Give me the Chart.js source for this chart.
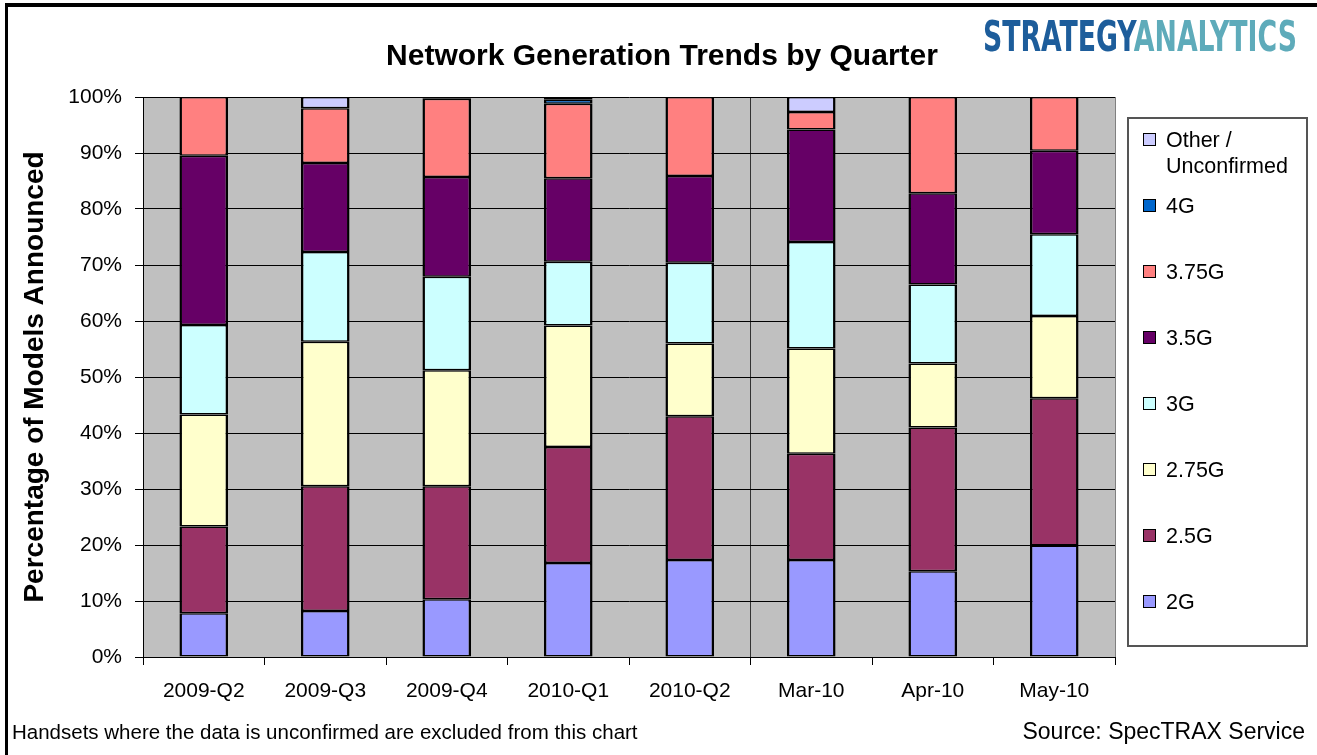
<!DOCTYPE html>
<html>
<head>
<meta charset="utf-8">
<title>Network Generation Trends by Quarter</title>
<script src="https://cdn.jsdelivr.net/npm/chart.js@4.4.1/dist/chart.umd.min.js"></script>
<style>
  html, body { margin: 0; padding: 0; background: #fff; }
  body { width: 1317px; height: 755px; position: relative; overflow: hidden; font-family: "Liberation Sans", Arial, sans-serif; color: #000; }
  #wrap { position: absolute; left: 0; top: 0; width: 1317px; height: 755px; }
  .frame { position: absolute; left: 5px; top: 3px; width: 1400px; height: 800px; border-left: 3px solid #000; border-top: 4px solid #000; pointer-events: none; }
  .title { position: absolute; left: 362px; width: 600px; top: 36px; text-align: center; font-weight: bold; font-size: 30px; line-height: 38px; white-space: nowrap; }
  .logo { position: absolute; left: 983px; top: 13px; font-family: "Liberation Sans Narrow", "DejaVu Sans Condensed", sans-serif; font-weight: bold; font-size: 43px; line-height: 46px; white-space: nowrap; transform-origin: 0 0; }
  .logo .a { color: #1d5d9b; }
  .logo .b { color: #5eabba; }
  .note { position: absolute; left: 12px; top: 719px; font-size: 20.5px; line-height: 26px; white-space: nowrap; }
  .source { position: absolute; right: 12px; top: 717px; font-size: 23px; line-height: 28px; white-space: nowrap; }
  .legend { position: absolute; left: 1127px; top: 117px; width: 181px; height: 530px; border: 2px solid #555; box-sizing: border-box; background: #fff; }
  .legend .item { position: absolute; left: 14px; font-size: 21.5px; line-height: 26px; white-space: nowrap; }
  .legend .sw { position: absolute; left: 0; top: 6px; width: 11px; height: 11px; border: 1.5px solid #000; }
  .legend .txt { position: absolute; left: 23px; top: 0; }
</style>
</head>
<body>
<div id="wrap"><canvas id="chart"></canvas></div>
<div class="frame"></div>
<div class="title">Network Generation Trends by Quarter</div>
<div class="logo" id="logo"><span class="a">STRATEGY</span><span class="b">ANALYTICS</span></div>
<div class="legend" id="legend"></div>
<div class="note">Handsets where the data is unconfirmed are excluded from this chart</div>
<div class="source">Source: SpecTRAX Service</div>

<script>
// Datos (porcentaje de modelos anunciados)
const categories = ['2009-Q2', '2009-Q3', '2009-Q4', '2010-Q1', '2010-Q2', 'Mar-10', 'Apr-10', 'May-10'];
const g2    = [7.8, 8.2, 10.3, 16.8, 17.3, 17.3, 15.3, 19.9];
const g25   = [15.5, 22.3, 20.2, 20.7, 25.7, 19.0, 25.7, 26.3];
const g275  = [20.0, 25.8, 20.7, 21.7, 13.0, 18.8, 11.4, 14.7];
const g3    = [16.0, 16.0, 16.7, 11.4, 14.4, 19.0, 14.1, 14.6];
const g35   = [30.2, 15.9, 17.8, 14.9, 15.5, 20.1, 16.3, 14.9];
const g375  = [10.5, 9.8, 14.0, 13.3, 14.1, 3.1, 17.2, 9.6];
const g4    = [0, 0, 0.3, 0.7, 0, 0, 0, 0];
const other = [0, 2.0, 0, 0.5, 0, 2.7, 0, 0];

const yTicks = [0, 10, 20, 30, 40, 50, 60, 70, 80, 90, 100];

const seriesNames  = ['2G', '2.5G', '2.75G', '3G', '3.5G', '3.75G', '4G', ['Other /', 'Unconfirmed']];
const seriesColors = ['#9999ff', '#993366', '#ffffcc', '#ccffff', '#660066', '#ff8080', '#0066cc', '#ccccff'];
const seriesData   = [g2, g25, g275, g3, g35, g375, g4, other];

// fondo gris del área de trazado + borde derecho
const plotBg = {
  id: 'plotBg',
  beforeDraw(chart) {
    const { ctx, chartArea: a } = chart;
    ctx.save();
    ctx.fillStyle = '#c0c0c0';
    ctx.fillRect(a.left, a.top, a.right - a.left, a.bottom - a.top);
    ctx.restore();
  },
  afterDraw(chart) {
    const { ctx, chartArea: a } = chart;
    ctx.save();
    ctx.strokeStyle = '#808080';
    ctx.lineWidth = 1;
    ctx.beginPath();
    ctx.moveTo(a.right + 0.5, a.top);
    ctx.lineTo(a.right + 0.5, a.bottom);
    ctx.stroke();
    ctx.restore();
  }
};

const chart = new Chart(document.getElementById('chart'), {
  type: 'bar',
  data: {
    labels: categories,
    datasets: seriesData.map((d, i) => ({
      label: Array.isArray(seriesNames[i]) ? seriesNames[i].join(' ') : seriesNames[i],
      data: d,
      backgroundColor: seriesColors[i],
      borderColor: '#000',
      // bordes finos arriba/abajo: entre segmentos quedan ~3px como en Excel
      borderWidth: { top: 1.5, bottom: 1.5, left: 2.5, right: 2.5 },
      borderSkipped: false,
      barPercentage: 0.4,
      categoryPercentage: 1.0
    }))
  },
  options: {
    responsive: true,
    maintainAspectRatio: false,
    animation: false,
    layout: { padding: { left: 0, right: 202, top: 97, bottom: 0 } },
    plugins: {
      legend: { display: false },
      title: { display: false },
      tooltip: { enabled: false }
    },
    scales: {
      x: {
        stacked: true,
        afterFit: s => { s.height = 98; },
        border: { display: true, color: '#000', width: 1 },
        grid: {
          offset: true,
          drawOnChartArea: true,
          color: c => (c.index === 5 ? '#333' : 'rgba(0,0,0,0)'),
          tickColor: '#000',
          tickLength: 8,
          lineWidth: 1
        },
        ticks: { color: '#000', padding: 14, font: { family: 'Liberation Sans, Arial', size: 21 } }
      },
      y: {
        stacked: true,
        min: 0,
        max: 100,
        afterFit: s => { s.width = 143; },
        afterBuildTicks: s => { s.ticks = yTicks.map(v => ({ value: v })); },
        border: { display: true, color: '#000', width: 1 },
        grid: { color: '#000', tickColor: '#000', tickLength: 8, lineWidth: 1 },
        ticks: {
          color: '#000',
          padding: 13,
          font: { family: 'Liberation Sans, Arial', size: 21 },
          callback: v => v + '%'
        },
        title: {
          display: true,
          text: 'Percentage of Models Announced',
          color: '#000',
          padding: { top: 18, bottom: 0 },
          font: { family: 'Liberation Sans, Arial', size: 28, weight: 'bold' }
        }
      }
    }
  },
  plugins: [plotBg]
});

// leyenda (orden inverso, como en Excel)
const legend = document.getElementById('legend');
const order = [7, 6, 5, 4, 3, 2, 1, 0];
order.forEach((idx, k) => {
  const item = document.createElement('div');
  item.className = 'item';
  item.style.top = (8 + 66 * k) + 'px';
  const sw = document.createElement('div');
  sw.className = 'sw';
  sw.style.background = seriesColors[idx];
  const txt = document.createElement('div');
  txt.className = 'txt';
  const name = seriesNames[idx];
  txt.innerHTML = Array.isArray(name) ? name.join('<br>') : name;
  item.appendChild(sw);
  item.appendChild(txt);
  legend.appendChild(item);
});

// logo: ajustar al ancho del original
const logo = document.getElementById('logo');
const w = logo.getBoundingClientRect().width;
logo.style.transform = 'scaleX(' + (314 / w) + ')';
</script>
</body>
</html>
